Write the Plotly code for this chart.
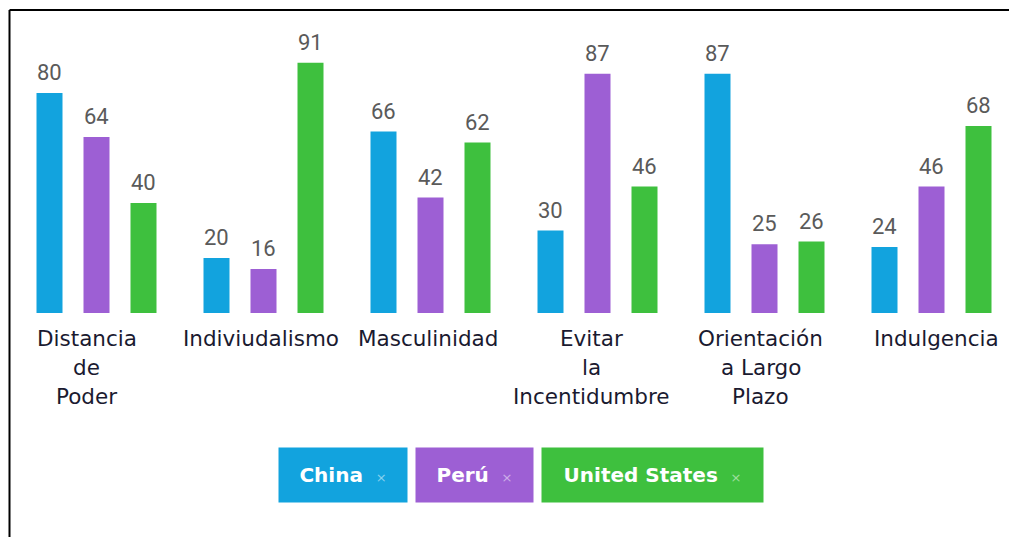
import plotly.graph_objects as go

categories = ["Distancia de Poder", "Indiviudalismo", "Masculinidad",
              "Evitar la Incentidumbre", "Orientación a Largo Plazo", "Indulgencia"]
label_lines = [["Distancia", "de", "Poder"], ["Indiviudalismo"], ["Masculinidad"],
               ["Evitar", "la", "Incentidumbre"], ["Orientación", "a Largo", "Plazo"], ["Indulgencia"]]
series_names = ["China", "Perú", "United States"]
china = [80, 20, 66, 30, 87, 24]
peru = [64, 16, 42, 87, 25, 46]
usa = [40, 91, 62, 46, 26, 68]
colors = ["#12a3de", "#9d5fd4", "#3ec03e"]

# page body has an 8px margin; size the figure to the remaining viewport
OFF = 8
W, H = 1017 - OFF, 537 - OFF
ML, MR, MT, MB = 5, 2, 30, 224
plot_w = W - ML - MR
plot_h = H - MT - MB

pitch = 47 / 167.0      # bar-to-bar offset in category units
bar_w = 26 / 167.0
label_xshift = [-10, -3, -3, -6, -4, 5]   # horizontal nudges of the category labels (px)

fig = go.Figure()
all_vals = [china, peru, usa]
for i, (name, vals) in enumerate(zip(series_names, all_vals)):
    xs = [j + (i - 1) * pitch for j in range(len(categories))]
    fig.add_trace(go.Bar(x=xs, y=vals, name=name, width=bar_w,
                         marker=dict(color=colors[i], line=dict(width=0)),
                         showlegend=False, hoverinfo="y"))
    for x, v in zip(xs, vals):
        fig.add_annotation(x=x, y=v, text=str(v), showarrow=False, yanchor="bottom",
                           yshift=6, font=dict(family="Roboto", size=22, color="#5a5a5a"))

# category labels
for j, lines in enumerate(label_lines):
    for k, line in enumerate(lines):
        fig.add_annotation(x=j, y=0, text=line, showarrow=False, yanchor="middle",
                           xshift=label_xshift[j], yshift=-25 - 29 * k,
                           font=dict(family="DejaVu Sans", size=21.5, color="#1a1a30"))

# legend boxes (left edges / widths in px)
box_left = [278 - OFF, 415 - OFF, 541 - OFF]
box_width = [128, 117, 221]
box_mid_y = 475 - OFF
for name, c, bl, bw in zip(series_names, colors, box_left, box_width):
    fig.add_annotation(xref="paper", yref="paper",
                       x=(bl - ML) / plot_w, y=(MT + plot_h - box_mid_y) / plot_h,
                       xanchor="left", yanchor="middle", showarrow=False,
                       width=bw, height=54, borderpad=0, bgcolor=c, align="center",
                       text=f"<b>{name}</b>  <span style='font-size:13px;color:rgba(255,255,255,0.5)'>×</span>",
                       font=dict(family="DejaVu Sans", size=20, color="white"))

# frame (top and left lines)
fx, fy = 1.5, 2
fig.add_shape(type="line", xref="paper", yref="paper",
              x0=(fx - ML) / plot_w, x1=(W + 5 - ML) / plot_w,
              y0=(MT + plot_h - fy) / plot_h, y1=(MT + plot_h - fy) / plot_h,
              line=dict(color="black", width=2))
fig.add_shape(type="line", xref="paper", yref="paper",
              x0=(fx - ML) / plot_w, x1=(fx - ML) / plot_w,
              y0=(MT + plot_h - fy) / plot_h, y1=(MT + plot_h - H - 5) / plot_h,
              line=dict(color="black", width=2))

fig.update_layout(
    width=W, height=H, barmode="overlay",
    margin=dict(l=ML, r=MR, t=MT, b=MB, pad=0),
    paper_bgcolor="white", plot_bgcolor="white",
    xaxis=dict(range=[-0.5, len(categories) - 0.5], visible=False, fixedrange=True),
    yaxis=dict(range=[0, 100], visible=False, fixedrange=True),
)

fig.write_html("out.html", config={"displayModeBar": False})
